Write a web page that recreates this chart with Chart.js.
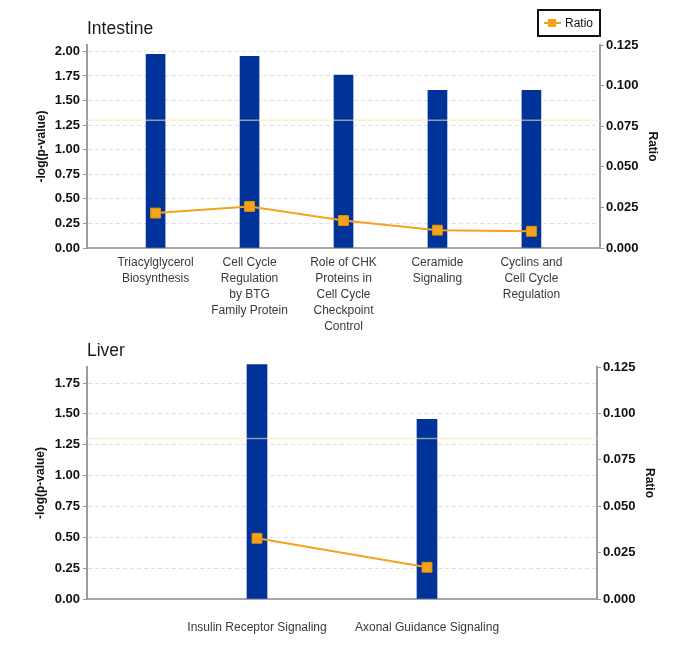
<!DOCTYPE html>
<html>
<head>
<meta charset="utf-8">
<script src="https://cdn.jsdelivr.net/npm/chart.js@4/dist/chart.umd.min.js"></script>
<style>
  html, body { margin: 0; padding: 0; background: #ffffff; }
  .box { position: absolute; left: 0; width: 684px; }
</style>
</head>
<body>
<div class="box" style="top:0;height:335px"><canvas id="c1"></canvas></div>
<div class="box" style="top:335px;height:312px"><canvas id="c2"></canvas></div>
<script>
// ---------- DATA ----------
const intestineCategories = [
  ["Triacylglycerol", "Biosynthesis"],
  ["Cell Cycle", "Regulation", "by BTG", "Family Protein"],
  ["Role of CHK", "Proteins in", "Cell Cycle", "Checkpoint", "Control"],
  ["Ceramide", "Signaling"],
  ["Cyclins and", "Cell Cycle", "Regulation"]
];
const intestineLogP = [1.97, 1.95, 1.76, 1.605, 1.605];
const intestineRatio = [0.0215, 0.0256, 0.0169, 0.0110, 0.0103];

const liverCategories = ["Insulin Receptor Signaling", "Axonal Guidance Signaling"];
const liverLogP = [1.90, 1.456];
const liverRatio = [0.0327, 0.0171];

const thresholdLogP = 1.3;
const logPStep = 0.25;
const ratioStep = 0.025;
const ratioMax = 0.125;

// ---------- STYLE ----------
const BAR_COLOR = '#003399';
const LINE_COLOR = '#f5a21d';
const FONT = "'Liberation Sans', Arial, sans-serif";

function makeChart(id, o) {
  const thresholdPlugin = {
    id: 'threshold',
    afterDatasetsDraw(chart) {
      const { ctx, chartArea } = chart;
      const y = chart.scales.y.getPixelForValue(thresholdLogP);
      ctx.save();
      ctx.strokeStyle = 'rgba(250,228,180,0.6)';
      ctx.lineWidth = 1.5;
      ctx.beginPath();
      ctx.moveTo(chartArea.left, y);
      ctx.lineTo(chartArea.right, y);
      ctx.stroke();
      ctx.restore();
    }
  };
  const titlePlugin = {
    id: 'panelTitle',
    afterDraw(chart) {
      const { ctx, chartArea } = chart;
      ctx.save();
      ctx.font = "17.5px " + FONT;
      ctx.fillStyle = '#1a1a1a';
      ctx.textBaseline = 'middle';
      ctx.textAlign = 'left';
      ctx.fillText(o.title, chartArea.left, o.titleY);
      if (o.legend) {
        const lx = 538, ly = 10, lw = 62, lh = 26;
        ctx.strokeStyle = '#111';
        ctx.lineWidth = 2;
        ctx.strokeRect(lx, ly, lw, lh);
        const my = ly + lh / 2;
        ctx.strokeStyle = LINE_COLOR;
        ctx.lineWidth = 2;
        ctx.beginPath();
        ctx.moveTo(lx + 6, my);
        ctx.lineTo(lx + 23, my);
        ctx.stroke();
        ctx.fillStyle = LINE_COLOR;
        ctx.fillRect(lx + 10, my - 4, 8, 8);
        ctx.fillStyle = '#111';
        ctx.font = "12px " + FONT;
        ctx.fillText('Ratio', lx + 27, my + 0.5);
      }
      ctx.restore();
    }
  };

  return new Chart(document.getElementById(id), {
    data: {
      datasets: [
        {
          type: 'line',
          label: 'Ratio',
          data: o.ratio.map((v, i) => ({ x: i, y: v })),
          yAxisID: 'y1',
          borderColor: LINE_COLOR,
          borderWidth: 2,
          pointStyle: 'rect',
          pointRadius: 7,
          pointBackgroundColor: LINE_COLOR,
          pointBorderColor: '#e48f0a',
          pointBorderWidth: 1,
          tension: 0,
          order: 0
        },
        {
          type: 'bar',
          label: '-log(p-value)',
          data: o.logP.map((v, i) => ({ x: i, y: v })),
          yAxisID: 'y',
          backgroundColor: BAR_COLOR,
          barThickness: o.barWidth,
          clip: false,
          order: 1
        }
      ]
    },
    options: {
      responsive: true,
      maintainAspectRatio: false,
      animation: false,
      layout: { padding: { top: o.padTop, left: 0, right: 0, bottom: 0 } },
      plugins: { legend: { display: false }, tooltip: { enabled: false } },
      scales: {
        x: {
          type: 'linear',
          min: o.xMin,
          max: o.xMax,
          offset: false,
          afterBuildTicks: s => { s.ticks = o.categories.map((c, i) => ({ value: i })); },
          ticks: {
            callback: v => o.categories[v],
            autoSkip: false,
            maxRotation: 0,
            minRotation: 0,
            padding: o.xPad,
            color: '#3a3a3a',
            font: { family: FONT, size: 12, lineHeight: 1.32 }
          },
          grid: { display: false, drawTicks: false },
          border: { display: true, color: '#a8a8a8', width: 2 },
          afterFit: s => { s.height = o.xHeight; }
        },
        y: {
          type: 'linear',
          position: 'left',
          min: 0,
          max: o.leftMax,
          ticks: {
            stepSize: logPStep,
            includeBounds: false,
            callback: v => Number(v).toFixed(2),
            color: '#111',
            padding: 3,
            font: { family: FONT, size: 13, weight: 'bold' }
          },
          grid: { color: '#e0e0e0', lineWidth: 1, tickLength: 4, tickColor: '#999', tickWidth: 1 },
          border: { display: true, color: '#9c9c9c', width: 2, dash: [4, 3] },
          title: {
            display: true,
            text: '-log(p-value)',
            color: '#111',
            font: { family: FONT, size: 12, weight: 'bold' },
            padding: { top: o.leftTitlePad, bottom: 0 }
          },
          afterFit: s => { s.width = o.leftWidth; }
        },
        y1: {
          type: 'linear',
          position: 'right',
          min: 0,
          max: ratioMax,
          ticks: {
            stepSize: ratioStep,
            callback: v => Number(v).toFixed(3),
            color: '#111',
            padding: 2,
            font: { family: FONT, size: 13, weight: 'bold' }
          },
          grid: { drawOnChartArea: false, tickLength: 4, tickColor: '#999', tickWidth: 1 },
          border: { display: true, color: '#9c9c9c', width: 2 },
          title: {
            display: true,
            text: 'Ratio',
            color: '#111',
            font: { family: FONT, size: 12, weight: 'bold' },
            padding: { top: o.rightTitlePad, bottom: 0 }
          },
          afterFit: s => { s.width = o.rightWidth; }
        }
      }
    },
    plugins: [thresholdPlugin, titlePlugin]
  });
}

makeChart('c1', {
  title: 'Intestine', titleY: 29.5, legend: true,
  categories: intestineCategories, logP: intestineLogP, ratio: intestineRatio,
  xMin: -0.73, xMax: 4.73, leftMax: 2.065, barWidth: 19,
  padTop: 45, xHeight: 87, xPad: 7,
  leftWidth: 87, rightWidth: 84, leftTitlePad: 34.8, rightTitlePad: 24.8
});

makeChart('c2', {
  title: 'Liver', titleY: 16, legend: false,
  categories: liverCategories, logP: liverLogP, ratio: liverRatio,
  xMin: -1, xMax: 2, leftMax: 1.88, barWidth: 20,
  padTop: 32, xHeight: 48, xPad: 21,
  leftWidth: 87, rightWidth: 87, leftTitlePad: 33.8, rightTitlePad: 27.8
});
</script>
</body>
</html>
